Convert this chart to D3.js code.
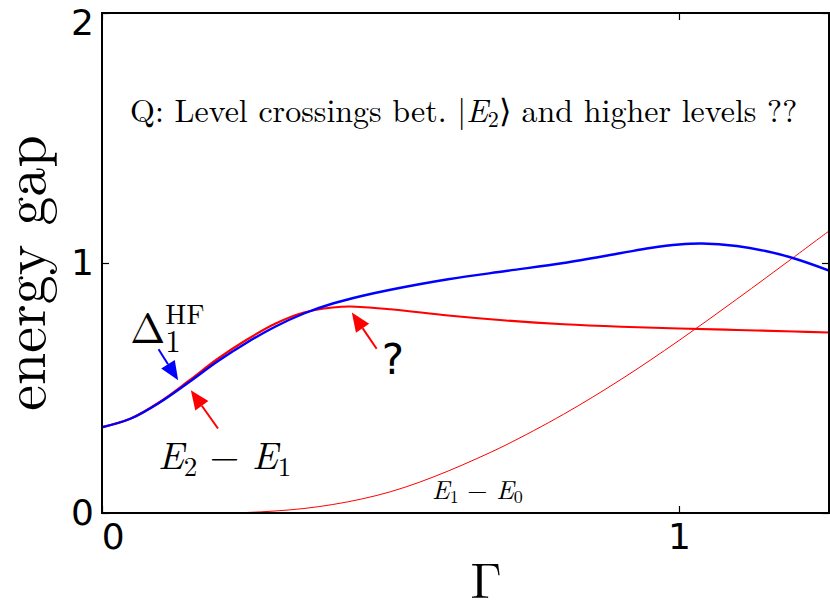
<!DOCTYPE html>
<html>
<head>
<meta charset="utf-8">
<script src="https://cdn.jsdelivr.net/npm/d3@7"></script>
<style>
  html, body { margin: 0; padding: 0; background: #fff; }
  svg { display: block; }
  .serif { font-family: "Latin Modern Roman", "Liberation Serif", serif; }
  .sans { font-family: "DejaVu Sans", sans-serif; }
</style>
</head>
<body>
<svg id="chart" width="830" height="609"></svg>
<script>
// Coupling strength Γ at which each gap was evaluated
const gammaHF   = [0, 0.05, 0.1, 0.15, 0.2, 0.25, 0.3, 0.35, 0.4, 0.45, 0.5, 0.6, 0.7, 0.8, 0.9, 0.95, 1.0, 1.04, 1.1, 1.15, 1.2, 1.26];
// Hartree–Fock gap Δ1^HF
const deltaHF   = [0.343, 0.378, 0.442, 0.522, 0.606, 0.68, 0.745, 0.798, 0.838, 0.868, 0.893, 0.935, 0.968, 1.0, 1.04, 1.06, 1.074, 1.078, 1.068, 1.048, 1.018, 0.97];

const gammaE21  = [0, 0.05, 0.1, 0.15, 0.2, 0.25, 0.3, 0.35, 0.4, 0.43, 0.5, 0.6, 0.7, 0.8, 0.9, 1.0, 1.1, 1.2, 1.26];
// Exact gap E2 − E1
const gapE21    = [0.343, 0.378, 0.444, 0.528, 0.616, 0.692, 0.757, 0.802, 0.822, 0.826, 0.815, 0.79, 0.77, 0.755, 0.745, 0.738, 0.732, 0.726, 0.722];

const gammaE10  = [0, 0.1, 0.2, 0.25, 0.3, 0.35, 0.4, 0.45, 0.5, 0.55, 0.6, 0.65, 0.7, 0.8, 0.9, 1.0, 1.1, 1.2, 1.26];
// Exact gap E1 − E0
const gapE10    = [0, 0, 0, 0.002, 0.008, 0.018, 0.034, 0.056, 0.085, 0.123, 0.168, 0.218, 0.272, 0.395, 0.535, 0.69, 0.855, 1.025, 1.128];

const xTicks = [0, 1];
const yTicks = [0, 1, 2];

// Annotation arrows: [tail Γ, tail gap, tip Γ, tip gap]
const arrowHF   = [0.098, 0.655, 0.132, 0.531];
const arrowE21  = [0.201, 0.338, 0.154, 0.491];
const arrowPeak = [0.476, 0.657, 0.433, 0.802];

const svg = d3.select("#chart");
const box = { left: 102, right: 829, top: 13, bottom: 513 };

const x = d3.scaleLinear().domain([0, 1.26]).range([box.left, box.right]);
const y = d3.scaleLinear().domain([0, 2]).range([box.bottom, box.top]);

// Curves, clipped to the axes box
svg.append("clipPath").attr("id", "plotClip")
  .append("rect").attr("x", box.left).attr("y", box.top)
  .attr("width", box.right - box.left).attr("height", box.bottom - box.top);

const plot = svg.append("g").attr("clip-path", "url(#plotClip)");

const line = d3.line()
  .x(d => x(d[0])).y(d => y(d[1]))
  .curve(d3.curveCatmullRom.alpha(0.5));

plot.append("path")
  .datum(d3.zip(gammaE10, gapE10))
  .attr("d", line).attr("fill", "none")
  .attr("stroke", "#ff0000").attr("stroke-width", 1);

plot.append("path")
  .datum(d3.zip(gammaE21, gapE21))
  .attr("d", line).attr("fill", "none")
  .attr("stroke", "#ff0000").attr("stroke-width", 2.2);

plot.append("path")
  .datum(d3.zip(gammaHF, deltaHF))
  .attr("d", line).attr("fill", "none")
  .attr("stroke", "#0000ff").attr("stroke-width", 2.4);

// Axes: inward ticks on all four sides, labels on bottom and left
const tickLen = 7;
const gBottom = svg.append("g").attr("transform", `translate(0,${box.bottom})`)
  .call(d3.axisBottom(x).tickValues(xTicks).tickSizeInner(-tickLen).tickSizeOuter(0).tickPadding(10).tickFormat(d3.format("d")));
const gLeft = svg.append("g").attr("transform", `translate(${box.left},0)`)
  .call(d3.axisLeft(y).tickValues(yTicks).tickSizeInner(-tickLen).tickSizeOuter(0).tickPadding(8).tickFormat(d3.format("d")));
const gTop = svg.append("g").attr("transform", `translate(0,${box.top})`)
  .call(d3.axisTop(x).tickValues(xTicks).tickSizeInner(-tickLen).tickSizeOuter(0).tickFormat(""));
const gRight = svg.append("g").attr("transform", `translate(${box.right},0)`)
  .call(d3.axisRight(y).tickValues(yTicks).tickSizeInner(-tickLen).tickSizeOuter(0).tickFormat(""));

[gBottom, gLeft, gTop, gRight].forEach(g => {
  g.attr("font-family", null).attr("font-size", null);
  g.select(".domain").remove();
  g.selectAll(".tick line").attr("stroke", "#000").attr("stroke-width", 1.2);
  g.selectAll("text").attr("class", "sans").style("font-size", "36px").attr("fill", "#000");
});
// the topmost label sits a little below its tick
gLeft.selectAll(".tick text").filter(d => d === 2).attr("dy", "0.6em");
gBottom.selectAll(".tick text").filter(d => d === 0).attr("dx", "0.3em");

// Frame
svg.append("rect")
  .attr("x", box.left).attr("y", box.top)
  .attr("width", box.right - box.left).attr("height", box.bottom - box.top)
  .attr("fill", "none").attr("stroke", "#000").attr("stroke-width", 2);

// Axis titles
svg.append("text").attr("class", "serif")
  .attr("x", 486).attr("y", 598)
  .attr("text-anchor", "middle")
  .style("font-size", "50px")
  .text("Γ");

svg.append("text").attr("class", "serif")
  .attr("transform", "translate(45,273) rotate(-90)")
  .attr("text-anchor", "middle")
  .style("font-size", "58px")
  .text("energy gap");

// Question in the upper part of the axes
const q = svg.append("text").attr("class", "serif")
  .attr("x", 130).attr("y", 122)
  .style("font-size", "32px");
q.append("tspan").text("Q: Level crossings bet. |");
q.append("tspan").attr("font-style", "italic").text("E");
q.append("tspan").style("font-size", "22px").attr("dy", 5).text("2");
q.append("tspan").attr("dy", -5).text("⟩ and higher levels ??");

// Arrows with filled heads
function arrow(a, color, headLen, headW) {
  const x0 = x(a[0]), y0 = y(a[1]), x1 = x(a[2]), y1 = y(a[3]);
  const dx = x1 - x0, dy = y1 - y0, L = Math.hypot(dx, dy);
  const ux = dx / L, uy = dy / L;
  const bx = x1 - ux * headLen, by = y1 - uy * headLen;
  svg.append("line")
    .attr("x1", x0).attr("y1", y0).attr("x2", bx).attr("y2", by)
    .attr("stroke", color).attr("stroke-width", 2);
  svg.append("path")
    .attr("d", `M${x1},${y1}L${bx - uy * headW / 2},${by + ux * headW / 2}L${bx + uy * headW / 2},${by - ux * headW / 2}Z`)
    .attr("fill", color);
}
arrow(arrowHF, "#0000ff", 19, 16);
arrow(arrowE21, "#ff0000", 19, 16);
arrow(arrowPeak, "#ff0000", 19, 16);

// Curve labels
const hx = x(0.049), hy = y(0.68);
const dHF = svg.append("text").attr("class", "serif")
  .attr("x", hx).attr("y", hy)
  .style("font-size", "42px");
dHF.append("tspan").text("Δ");
dHF.append("tspan").style("font-size", "31px").attr("x", hx + 35).attr("y", hy + 9).text("1");
dHF.append("tspan").style("font-size", "28px").attr("x", hx + 35).attr("y", hy - 19).text("HF");

const e21 = svg.append("text").attr("class", "serif")
  .attr("x", x(0.097)).attr("y", y(0.178))
  .style("font-size", "38px");
e21.append("tspan").attr("font-style", "italic").text("E");
e21.append("tspan").style("font-size", "27px").attr("dy", 7).text("2");
e21.append("tspan").attr("dy", -7).text(" − ");
e21.append("tspan").attr("font-style", "italic").text("E");
e21.append("tspan").style("font-size", "27px").attr("dy", 7).text("1");

svg.append("text").attr("class", "sans")
  .attr("x", x(0.485)).attr("y", y(0.555))
  .style("font-size", "42px")
  .text("?");

const e10 = svg.append("text").attr("class", "serif")
  .attr("x", x(0.572)).attr("y", y(0.056))
  .style("font-size", "26px");
e10.append("tspan").attr("font-style", "italic").text("E");
e10.append("tspan").style("font-size", "18px").attr("dy", 4).text("1");
e10.append("tspan").attr("dy", -4).text(" − ");
e10.append("tspan").attr("font-style", "italic").text("E");
e10.append("tspan").style("font-size", "18px").attr("dy", 4).text("0");
</script>
</body>
</html>
